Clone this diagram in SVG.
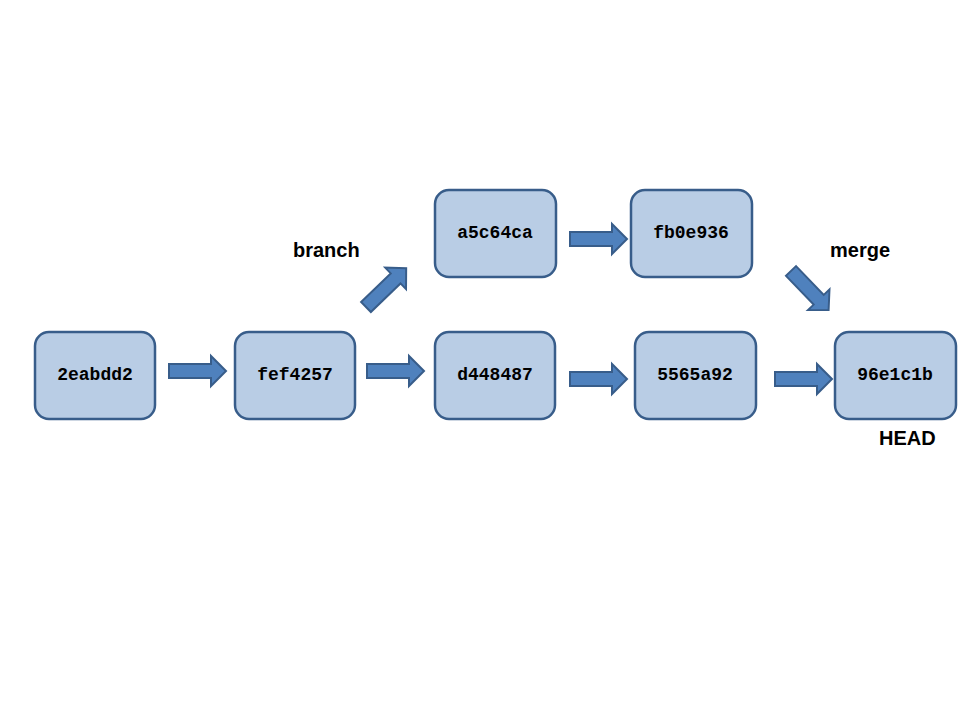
<svg xmlns="http://www.w3.org/2000/svg" width="960" height="720" viewBox="0 0 960 720">
<defs>
<style>
.box{fill:#B9CDE5;stroke:#385D8A;stroke-width:2.5}
.lbl{font-family:"Liberation Mono","Courier New",monospace;font-weight:bold;font-size:18px;fill:#000;text-anchor:middle;dominant-baseline:central}
.note{font-family:"Liberation Sans",Arial,sans-serif;font-weight:bold;font-size:20px;fill:#000}
.arr{fill:#4F81BD;stroke:#385D8A;stroke-width:2}
</style>
<path id="blk" d="M0,-7 H42 V-15 L57,0 L42,15 V7 H0 Z"/>
</defs>
<rect width="960" height="720" fill="#fff"/>
<g id="connectors">
<use href="#blk" class="arr" transform="translate(169,371)"/>
<use href="#blk" class="arr" transform="translate(367,371)"/>
<use href="#blk" class="arr" transform="translate(570,239)"/>
<use href="#blk" class="arr" transform="translate(570,379)"/>
<use href="#blk" class="arr" transform="translate(775,379)"/>
<use href="#blk" class="arr" transform="translate(366,307) rotate(-44) scale(0.98,1)"/>
<use href="#blk" class="arr" transform="translate(791,271) rotate(46) scale(0.95,1)"/>
</g>
<g id="n2eabdd2"><rect class="box" x="35" y="332" width="120" height="87" rx="14"/><text class="lbl" x="95" y="375">2eabdd2</text></g>
<g id="nfef4257"><rect class="box" x="235" y="332" width="120" height="87" rx="14"/><text class="lbl" x="295" y="375">fef4257</text></g>
<g id="nd448487"><rect class="box" x="435" y="332" width="120" height="87" rx="14"/><text class="lbl" x="495" y="375">d448487</text></g>
<g id="na5c64ca"><rect class="box" x="435" y="190" width="121" height="87" rx="14"/><text class="lbl" x="495" y="233">a5c64ca</text></g>
<g id="nfb0e936"><rect class="box" x="631" y="190" width="121" height="87" rx="14"/><text class="lbl" x="691" y="233">fb0e936</text></g>
<g id="n5565a92"><rect class="box" x="635" y="332" width="121" height="87" rx="14"/><text class="lbl" x="695" y="375">5565a92</text></g>
<g id="n96e1c1b"><rect class="box" x="835" y="332" width="121" height="87" rx="14"/><text class="lbl" x="895" y="375">96e1c1b</text></g>
<text class="note" x="293" y="257">branch</text>
<text class="note" x="830" y="257">merge</text>
<text class="note" x="879" y="445">HEAD</text>
</svg>
